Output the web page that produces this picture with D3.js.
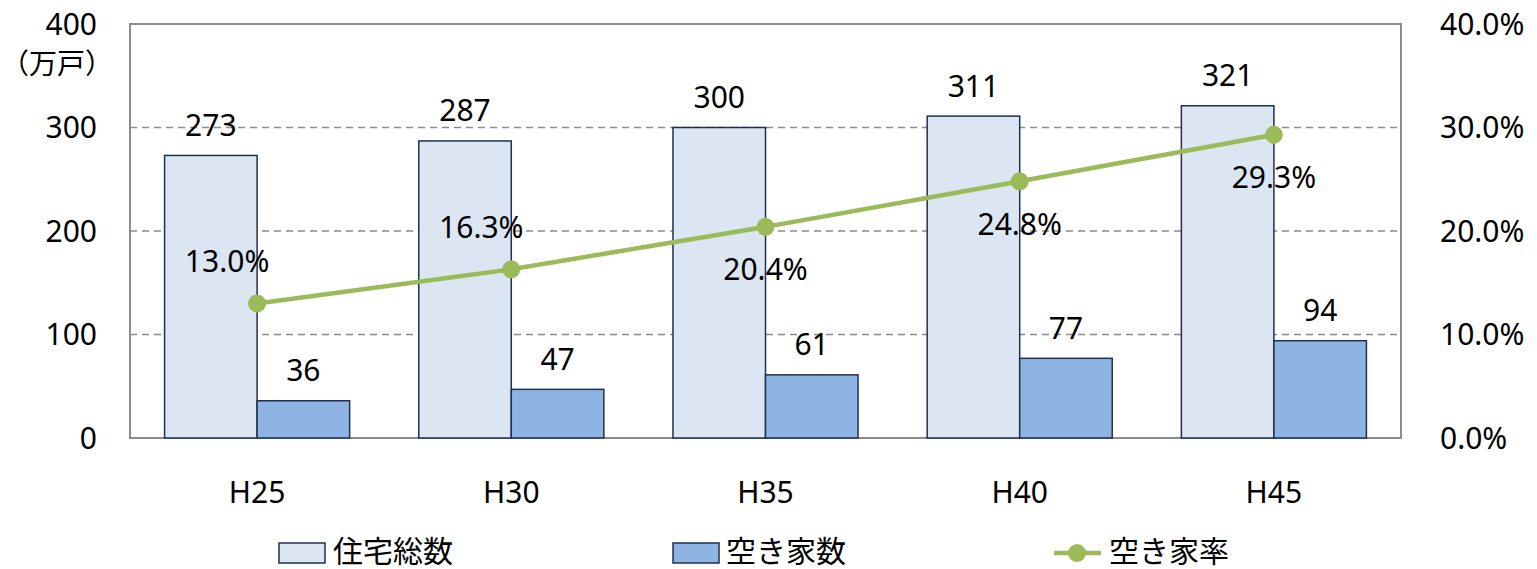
<!DOCTYPE html>
<html>
<head>
<meta charset="utf-8">
<script src="https://cdn.jsdelivr.net/npm/d3@7"></script>
<style>
  body { margin: 0; background: #fff; }
  svg text { font-family: "Noto Sans", "Noto Sans CJK JP", sans-serif; fill: #000; }
  .jp { font-family: "Noto Sans CJK JP", sans-serif; }
</style>
</head>
<body>
<svg width="1537" height="569"></svg>
<script>
// data
const years = ['H25', 'H30', 'H35', 'H40', 'H45'];
const totalHouses = [273, 287, 300, 311, 321];   // 住宅総数 (万戸)
const vacantHouses = [36, 47, 61, 77, 94];       // 空き家数 (万戸)
const vacancyRate = [13.0, 16.3, 20.4, 24.8, 29.3]; // 空き家率 (%)
const leftTicks = [0, 100, 200, 300, 400];
const rightTicks = [0, 10, 20, 30, 40];
const seriesNames = ['住宅総数', '空き家数', '空き家率'];

const svg = d3.select('svg');

const plot = { left: 130, right: 1401, top: 24, bottom: 438 };
const fs = 30; // number font size

const x = d3.scaleBand()
  .domain(years)
  .range([plot.left, plot.right]);

const bw = x.bandwidth() * 0.364; // single bar width

const yL = d3.scaleLinear().domain([0, 400]).range([plot.bottom, plot.top]);
const yR = d3.scaleLinear().domain([0, 40]).range([plot.bottom, plot.top]);

// gridlines (dashed)
svg.append('g')
  .attr('class', 'grid')
  .selectAll('line')
  .data(leftTicks.filter(t => t > 0 && t < 400))
  .enter()
  .append('line')
  .attr('x1', plot.left)
  .attr('x2', plot.right)
  .attr('y1', d => yL(d))
  .attr('y2', d => yL(d))
  .attr('stroke', '#8c8c8c')
  .attr('stroke-width', 1.5)
  .attr('stroke-dasharray', '7,5');

// plot frame
svg.append('rect')
  .attr('x', plot.left)
  .attr('y', plot.top)
  .attr('width', plot.right - plot.left)
  .attr('height', plot.bottom - plot.top)
  .attr('fill', 'none')
  .attr('stroke', '#8c8c8c')
  .attr('stroke-width', 2);

// left axis labels
svg.append('g')
  .selectAll('text')
  .data(leftTicks)
  .enter()
  .append('text')
  .attr('x', 97)
  .attr('y', d => yL(d))
  .attr('dy', '0.35em')
  .attr('text-anchor', 'end')
  .attr('font-size', fs)
  .text(d => d);

svg.append('text')
  .attr('class', 'jp')
  .attr('x', 113)
  .attr('y', 64)
  .attr('dy', '0.35em')
  .attr('text-anchor', 'end')
  .attr('font-size', 28)
  .text('（万戸）');

// right axis labels
svg.append('g')
  .selectAll('text')
  .data(rightTicks)
  .enter()
  .append('text')
  .attr('x', 1440)
  .attr('y', d => yR(d))
  .attr('dy', '0.35em')
  .attr('text-anchor', 'start')
  .attr('font-size', fs)
  .text(d => d.toFixed(1) + '%');

// x labels
svg.append('g')
  .selectAll('text')
  .data(years)
  .enter()
  .append('text')
  .attr('x', d => x(d) + x.bandwidth() / 2)
  .attr('y', 492)
  .attr('dy', '0.35em')
  .attr('text-anchor', 'middle')
  .attr('font-size', fs)
  .text(d => d);

// bars
const groups = svg.selectAll('.grp')
  .data(years)
  .enter()
  .append('g')
  .attr('class', 'grp');

groups.append('rect')
  .attr('x', d => x(d) + x.bandwidth() / 2 - bw)
  .attr('y', (d, i) => yL(totalHouses[i]))
  .attr('width', bw)
  .attr('height', (d, i) => plot.bottom - yL(totalHouses[i]))
  .attr('fill', '#dce6f2')
  .attr('stroke', '#1f3050')
  .attr('stroke-width', 1.5);

groups.append('rect')
  .attr('x', d => x(d) + x.bandwidth() / 2)
  .attr('y', (d, i) => yL(vacantHouses[i]))
  .attr('width', bw)
  .attr('height', (d, i) => plot.bottom - yL(vacantHouses[i]))
  .attr('fill', '#8eb4e3')
  .attr('stroke', '#1f3050')
  .attr('stroke-width', 1.5);

// bar value labels
groups.append('text')
  .attr('x', d => x(d) + x.bandwidth() / 2 - bw / 2)
  .attr('y', (d, i) => yL(totalHouses[i]) - 30)
  .attr('dy', '0.35em')
  .attr('text-anchor', 'middle')
  .attr('font-size', fs)
  .text((d, i) => totalHouses[i]);

groups.append('text')
  .attr('x', d => x(d) + x.bandwidth() / 2 + bw / 2)
  .attr('y', (d, i) => yL(vacantHouses[i]) - 30)
  .attr('dy', '0.35em')
  .attr('text-anchor', 'middle')
  .attr('font-size', fs)
  .text((d, i) => vacantHouses[i]);

// rate line
const line = d3.line()
  .x((d, i) => x(years[i]) + x.bandwidth() / 2)
  .y(d => yR(d));

svg.append('path')
  .datum(vacancyRate)
  .attr('d', line)
  .attr('fill', 'none')
  .attr('stroke', '#9bbb59')
  .attr('stroke-width', 4.5);

svg.append('g')
  .selectAll('circle')
  .data(vacancyRate)
  .enter()
  .append('circle')
  .attr('cx', (d, i) => x(years[i]) + x.bandwidth() / 2)
  .attr('cy', d => yR(d))
  .attr('r', 9)
  .attr('fill', '#9bbb59');

// rate labels: first two above-left, rest below
svg.append('g')
  .selectAll('text')
  .data(vacancyRate)
  .enter()
  .append('text')
  .attr('x', (d, i) => x(years[i]) + x.bandwidth() / 2 + (i < 2 ? -30 : 0))
  .attr('y', (d, i) => yR(d) + (i < 2 ? -42 : 43))
  .attr('dy', '0.35em')
  .attr('text-anchor', 'middle')
  .attr('font-size', fs)
  .text(d => d.toFixed(1) + '%');

// legend
const legend = svg.append('g').attr('class', 'legend');

legend.append('rect')
  .attr('x', 279).attr('y', 543).attr('width', 46).attr('height', 20)
  .attr('fill', '#dce6f2').attr('stroke', '#1f3050').attr('stroke-width', 1.5);
legend.append('rect')
  .attr('x', 673).attr('y', 543).attr('width', 46).attr('height', 20)
  .attr('fill', '#8eb4e3').attr('stroke', '#1f3050').attr('stroke-width', 1.5);
legend.append('line')
  .attr('x1', 1054).attr('x2', 1101).attr('y1', 553).attr('y2', 553)
  .attr('stroke', '#9bbb59').attr('stroke-width', 4.5);
legend.append('circle')
  .attr('cx', 1077).attr('cy', 553).attr('r', 9).attr('fill', '#9bbb59');

const legendX = [333, 726, 1109];
legend.selectAll('text')
  .data(seriesNames)
  .enter()
  .append('text')
  .attr('class', 'jp')
  .attr('x', (d, i) => legendX[i])
  .attr('y', 551)
  .attr('dy', '0.35em')
  .attr('font-size', 30)
  .text(d => d);
</script>
</body>
</html>
